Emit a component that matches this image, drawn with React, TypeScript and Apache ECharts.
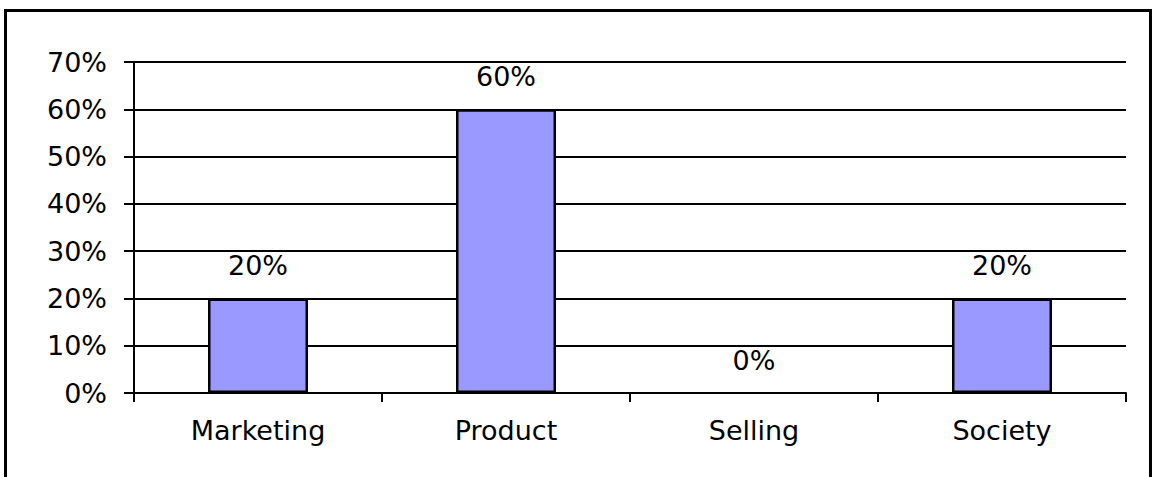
import React, { useEffect, useRef } from "react";
import * as echarts from "echarts";

const categories = ["Marketing", "Product", "Selling", "Society"];
const values = [20, 60, 0, 20];
const yMin = 0;
const yMax = 70;
const yInterval = 10;

const FONT = "DejaVu Sans";
const FS = 27;

export default function App() {
  const ref = useRef<HTMLDivElement>(null);
  useEffect(() => {
    if (!ref.current) return;
    const chart = echarts.init(ref.current, undefined, { renderer: "svg" });
    chart.setOption({
      animation: false,
      backgroundColor: "#ffffff",
      textStyle: { fontFamily: FONT },
      graphic: [
        {
          type: "rect",
          shape: { x: 5.5, y: 10.5, width: 1145, height: 500 },
          style: { fill: "none", stroke: "#000", lineWidth: 3 },
          silent: true,
          z: 100,
        },
      ],
      grid: { left: 134, right: 27, top: 62, bottom: 84, containLabel: false },
      xAxis: {
        type: "category",
        data: categories,
        axisLine: { show: true, lineStyle: { color: "#000", width: 2 } },
        axisTick: { show: true, length: 9, lineStyle: { color: "#000", width: 2 } },
        axisLabel: { color: "#000", fontSize: FS, fontFamily: FONT, margin: 24 },
        splitLine: { show: false },
      },
      yAxis: {
        type: "value",
        min: yMin,
        max: yMax,
        interval: yInterval,
        axisLine: { show: true, lineStyle: { color: "#000", width: 2 } },
        axisTick: { show: true, length: 10, lineStyle: { color: "#000", width: 2 } },
        axisLabel: {
          color: "#000",
          fontSize: FS,
          fontFamily: FONT,
          margin: 27,
          formatter: "{value}%",
        },
        splitLine: { show: true, lineStyle: { color: "#000", width: 2 } },
      },
      series: [
        {
          type: "bar",
          data: values.map((v) =>
            v === 0 ? { value: v, itemStyle: { borderWidth: 0 } } : v
          ),
          barWidth: 100,
          itemStyle: { color: "#9999FF", borderColor: "#000", borderWidth: 2.5 },
          label: {
            show: true,
            position: "top",
            distance: 19,
            formatter: "{c}%",
            color: "#000",
            fontSize: FS,
            fontFamily: FONT,
          },
        },
      ],
    });
    return () => chart.dispose();
  }, []);
  return (
    <div
      ref={ref}
      style={{ position: "absolute", left: 0, top: 0, width: 1153, height: 477 }}
    />
  );
}
